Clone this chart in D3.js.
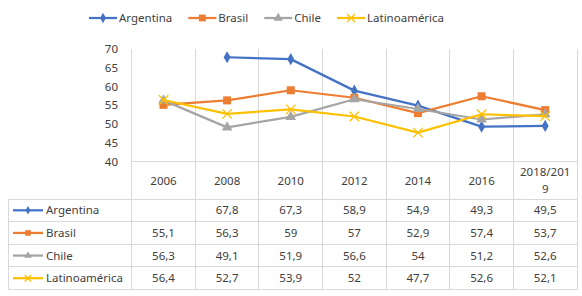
<!DOCTYPE html>
<html>
<head>
<meta charset="utf-8">
<script src="https://cdn.jsdelivr.net/npm/d3@7"></script>
<style>
  body { margin: 0; background: #fff; }
  svg text { font-family: "Noto Sans", sans-serif; font-size: 11.5px; fill: #404040; }
</style>
</head>
<body>
<svg width="582" height="296"></svg>
<script>
const width = 582, height = 296;
const svg = d3.select("svg");

// chart data
const categories = ["2006", "2008", "2010", "2012", "2014", "2016", "2018/2019"];
const seriesNames = ["Argentina", "Brasil", "Chile", "Latinoamérica"];
const argentina = [null, 67.8, 67.3, 58.9, 54.9, 49.3, 49.5];
const brasil = [55.1, 56.3, 59, 57, 52.9, 57.4, 53.7];
const chile = [56.3, 49.1, 51.9, 56.6, 54, 51.2, 52.6];
const latinoamerica = [56.4, 52.7, 53.9, 52, 47.7, 52.6, 52.1];
const yTicks = [40, 45, 50, 55, 60, 65, 70];

const series = [
    { name: seriesNames[0], values: argentina, color: "#4472C4", symbol: d3.symbolDiamond, size: 42, stroke: false },
    { name: seriesNames[1], values: brasil, color: "#ED7D31", symbol: d3.symbolSquare, size: 64, stroke: false },
    { name: seriesNames[2], values: chile, color: "#A5A5A5", symbol: d3.symbolTriangle, size: 50, stroke: false },
    { name: seriesNames[3], values: latinoamerica, color: "#FFC000", symbol: d3.symbolX, size: 60, stroke: true }
];

const gridColor = "#D9D9D9";
const plotLeft = 131.7, plotRight = 577, plotTop = 49, plotBottom = 161.5;
const tableTop = 199, tableBottom = 289.5, tableLeft = 8;

const x = d3.scaleBand().domain(categories).range([plotLeft, plotRight]);
const y = d3.scaleLinear().domain([40, 70]).range([plotBottom, plotTop]);
const row = d3.scaleBand().domain(seriesNames).range([tableTop, tableBottom]);

const fmt = v => v == null ? "" : String(v).replace(".", ",");

// y tick labels
svg.append("g").selectAll("text")
    .data(yTicks)
    .join("text")
    .attr("x", 118)
    .attr("y", d => y(d))
    .attr("dy", "0.35em")
    .attr("text-anchor", "end")
    .text(d => d);

// grid / table lines
const grid = svg.append("g").attr("stroke", gridColor).attr("stroke-width", 1).attr("shape-rendering", "crispEdges");
const bounds = categories.map(c => x(c)).concat([plotRight]);
grid.selectAll("line.v")
    .data(bounds)
    .join("line")
    .attr("class", "v")
    .attr("x1", d => d).attr("x2", d => d)
    .attr("y1", plotTop).attr("y2", tableBottom);
grid.append("line")
    .attr("x1", plotLeft).attr("x2", plotRight)
    .attr("y1", plotBottom).attr("y2", plotBottom);
grid.selectAll("line.h")
    .data([tableTop].concat(seriesNames.map(s => row(s) + row.bandwidth())))
    .join("line")
    .attr("class", "h")
    .attr("x1", tableLeft).attr("x2", plotRight)
    .attr("y1", d => d).attr("y2", d => d);
grid.append("line")
    .attr("x1", tableLeft).attr("x2", tableLeft)
    .attr("y1", tableTop).attr("y2", tableBottom);

// category labels (wrap long label like Excel)
const catG = svg.append("g");
categories.forEach(c => {
    const cx = x(c) + x.bandwidth() / 2;
    const lines = c.length > 8 ? [c.slice(0, 8), c.slice(8)] : [c];
    const t = catG.append("text").attr("text-anchor", "middle");
    lines.forEach((l, i) => {
        t.append("tspan")
            .attr("x", cx)
            .attr("y", lines.length > 1 ? 172 + i * 17 : 181)
            .attr("dy", "0.35em")
            .text(l);
    });
});

// lines + markers
const line = d3.line()
    .defined(d => d.v != null)
    .x(d => x(d.c) + x.bandwidth() / 2)
    .y(d => y(d.v));

function drawMarker(g, s, tx, ty, scale) {
    const p = g.append("path")
        .attr("d", d3.symbol(s.symbol, s.size * scale * scale)())
        .attr("transform", `translate(${tx},${ty})`);
    if (s.stroke) p.attr("fill", "none").attr("stroke", s.color).attr("stroke-width", 1.3);
    else p.attr("fill", s.color);
}

series.forEach(s => {
    const pts = categories.map((c, i) => ({ c, v: s.values[i] }));
    svg.append("path")
        .datum(pts)
        .attr("fill", "none")
        .attr("stroke", s.color)
        .attr("stroke-width", 2.25)
        .attr("stroke-linejoin", "round")
        .attr("d", line);
    const mg = svg.append("g");
    pts.filter(d => d.v != null).forEach(d => {
        drawMarker(mg, s, x(d.c) + x.bandwidth() / 2, y(d.v), 1);
    });
});

// legend keys helper
function legendKey(g, s, x0, cy, len, scale) {
    g.append("line")
        .attr("x1", x0).attr("x2", x0 + len)
        .attr("y1", cy).attr("y2", cy)
        .attr("stroke", s.color).attr("stroke-width", 2.25);
    drawMarker(g, s, x0 + len / 2, cy, scale);
}

// top legend
const legend = svg.append("g");
let lx = 89;
series.forEach(s => {
    legendKey(legend, s, lx, 18, 28, 0.85);
    const t = legend.append("text")
        .attr("x", lx + 30)
        .attr("y", 18)
        .attr("dy", "0.35em")
        .text(s.name);
    lx += 30 + t.node().getComputedTextLength() + 16;
});

// data table
const table = svg.append("g");
series.forEach(s => {
    const cy = row(s.name) + row.bandwidth() / 2;
    legendKey(table, s, 13, cy, 30, 0.7);
    table.append("text")
        .attr("x", 46)
        .attr("y", cy)
        .attr("dy", "0.35em")
        .text(s.name);
    table.selectAll(null)
        .data(categories.map((c, i) => ({ c, v: s.values[i] })))
        .join("text")
        .attr("x", d => x(d.c) + x.bandwidth() / 2)
        .attr("y", cy)
        .attr("dy", "0.35em")
        .attr("text-anchor", "middle")
        .text(d => fmt(d.v));
});
</script>
</body>
</html>
